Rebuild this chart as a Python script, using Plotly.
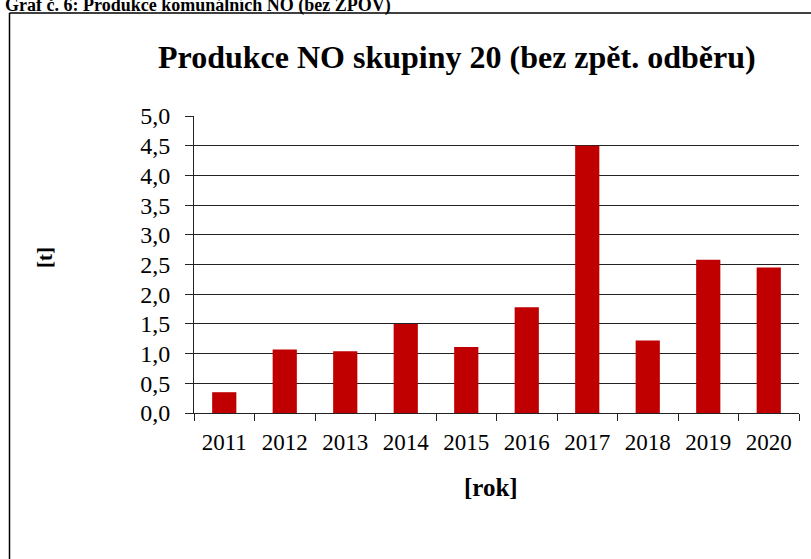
import plotly.graph_objects as go

years = ["2011", "2012", "2013", "2014", "2015", "2016", "2017", "2018", "2019", "2020"]
values = [0.35, 1.07, 1.04, 1.50, 1.11, 1.78, 4.50, 1.22, 2.58, 2.45]
y_ticks = [0, 0.5, 1, 1.5, 2, 2.5, 3, 3.5, 4, 4.5, 5]

title_text = "Produkce NO skupiny 20 (bez zpět. odběru)"
header_text = "Graf č. 6: Produkce komunálních NO (bez ZPOV)"
x_title = "[rok]"
y_title = "[t]"

W, H = 811, 559
L, R, T, B = 194, 12, 116, 146
PW, PH = W - L - R, H - T - B

def px(x):
    return (x - L) / PW

def py(y):
    return (H - B - y) / PH

FONT = "Liberation Serif, Times New Roman, serif"
DARK = "#222222"

fig = go.Figure(go.Bar(x=years, y=values, marker=dict(color="#C00000", line=dict(width=0))))

fig.update_layout(
    width=W, height=H,
    margin=dict(l=L, r=R, t=T, b=B, pad=0),
    paper_bgcolor="white", plot_bgcolor="white",
    separators=", ",
    bargap=0.6,
    showlegend=False,
    font=dict(family=FONT, color="black"),
)

fig.update_xaxes(
    type="category",
    showline=True, linecolor=DARK, linewidth=1,
    ticks="outside", ticklen=7, tickcolor=DARK, tickwidth=1,
    tickson="boundaries",
    tickfont=dict(family=FONT, size=23, color="black"),
    showgrid=False,
    ticklabelstandoff=8,
)
fig.update_yaxes(
    range=[0, 5],
    tickvals=y_ticks, tickformat=".1f",
    showline=True, linecolor=DARK, linewidth=1,
    ticks="outside", ticklen=8, tickcolor=DARK, tickwidth=1,
    showgrid=True, gridcolor=DARK, gridwidth=1,
    zeroline=False,
    tickfont=dict(family=FONT, size=24, color="black"),
    ticklabelstandoff=10,
)

annotations = [
    dict(text="<b>" + title_text + "</b>", x=px(457), y=py(57), xref="paper", yref="paper",
         showarrow=False, xanchor="center", yanchor="middle",
         font=dict(family=FONT, size=32, color="black")),
    dict(text="<b>" + x_title + "</b>", x=px(491), y=py(487), xref="paper", yref="paper",
         showarrow=False, xanchor="center", yanchor="middle",
         font=dict(family=FONT, size=25, color="black")),
    dict(text="<b>" + y_title + "</b>", x=px(45), y=py(258), xref="paper", yref="paper",
         showarrow=False, xanchor="center", yanchor="middle", textangle=-90,
         font=dict(family=FONT, size=21, color="black")),
    dict(text="<b>" + header_text + "</b>", x=px(3), y=py(6), xref="paper", yref="paper",
         showarrow=False, xanchor="left", yanchor="middle",
         font=dict(family=FONT, size=18, color="black")),
]
fig.update_layout(annotations=annotations)

shapes = [
    dict(type="line", xref="paper", yref="paper", x0=px(9.5), x1=px(9.5), y0=py(H + 5), y1=py(13),
         line=dict(color="black", width=1.5)),
    dict(type="line", xref="paper", yref="paper", x0=px(9.5), x1=px(W + 5), y0=py(13), y1=py(13),
         line=dict(color="black", width=1.5)),
]
fig.update_layout(shapes=shapes)

fig.write_html("out.html", config={"displayModeBar": False},
               post_script="document.body.style.margin='0px';")
